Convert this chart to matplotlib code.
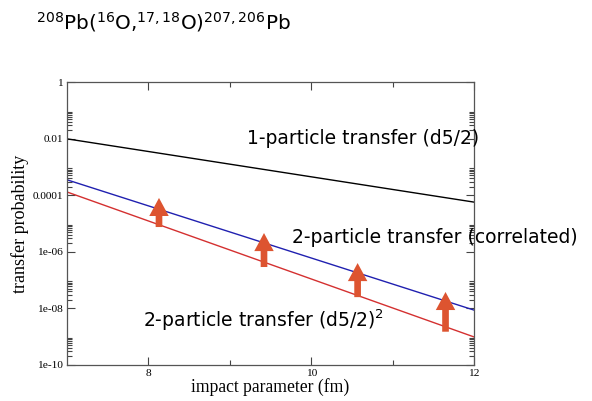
import matplotlib
matplotlib.use("Agg")
import matplotlib.pyplot as plt
import numpy as np

# impact parameter range (fm) and transfer probabilities at the ends
b = [7.0, 12.0]
p_one = [9.8e-3, 5.7e-5]          # 1-particle transfer (d5/2)
p_corr = [3.5e-4, 8.7e-9]         # 2-particle transfer (correlated)
p_uncorr = [1.3e-4, 9.8e-10]      # 2-particle transfer (d5/2)^2

# enhancement arrows: position, start (on uncorrelated curve), tip
arrow_b = [8.13, 9.42, 10.57, 11.65]
arrow_lo = [7.5e-6, 2.9e-7, 2.5e-8, 1.5e-9]
arrow_hi = [8.0e-5, 4.6e-6, 4.0e-7, 3.8e-8]

y_major = [1e-10, 1e-8, 1e-6, 1e-4, 1e-2, 1]
y_major_labels = ["1e-10", "1e-08", "1e-06", "0.0001", "0.01", "1"]
x_major = [8, 10, 12]
x_minor = [9, 11]

arrow_col = "#dd5430"

fig = plt.figure(figsize=(5.92, 4.01), dpi=100)
ax = fig.add_axes([0.1132, 0.0898, 0.6875, 0.7057])

ax.plot(b, p_one, color="black", lw=1.0)
ax.plot(b, p_corr, color="#2020b0", lw=1.0)
ax.plot(b, p_uncorr, color="#d43030", lw=1.0)

for xb, lo, hi in zip(arrow_b, arrow_lo, arrow_hi):
    ax.annotate("", xy=(xb, hi), xytext=(xb, lo),
                arrowprops=dict(arrowstyle="simple,head_length=1.3,head_width=1.4,tail_width=0.48",
                                color=arrow_col, lw=0, shrinkA=0, shrinkB=0,
                                mutation_scale=10))

ax.set_yscale("log")
ax.set_xlim(7, 12)
ax.set_ylim(1e-10, 1)

ax.set_yticks(y_major)
ax.set_yticklabels(y_major_labels)
y_minor = [k * 10.0 ** e for e in range(-10, 0, 2) for k in range(2, 10)]
ax.set_yticks(y_minor, minor=True)
ax.set_xticks(x_major)
ax.set_xticks(x_minor, minor=True)

ax.tick_params(which="both", direction="in", top=True, right=True,
               colors="#444444", labelcolor="black", width=0.8)
ax.tick_params(which="major", length=6, labelsize=8.2, pad=3)
ax.tick_params(which="minor", length=3.5)
for lab in ax.get_xticklabels() + ax.get_yticklabels():
    lab.set_family("Liberation Serif")
for s in ax.spines.values():
    s.set_color("#555555")
    s.set_linewidth(0.9)

ax.set_xlabel("impact parameter (fm)", family="Liberation Serif", fontsize=12.7, labelpad=0)
ax.set_ylabel("transfer probability", family="Liberation Serif", fontsize=13, labelpad=2)

txt = dict(fontsize=13.5, family="DejaVu Sans", va="center", ha="left")
fig.text(247 / 592, 1 - 138 / 401, "1-particle transfer (d5/2)", **txt)
fig.text(292 / 592, 1 - 237 / 401, "2-particle transfer (correlated)", **txt)
fig.text(143 / 592, 1 - 320 / 401, "2-particle transfer (d5/2)$^2$", **txt)

fig.text(36 / 592, 1 - 22 / 401,
         "$^{208}$Pb($^{16}$O,$^{17,18}$O)$^{207,206}$Pb",
         fontsize=14.4, family="DejaVu Sans", va="center", ha="left")

fig.savefig("out.png", dpi=100)
